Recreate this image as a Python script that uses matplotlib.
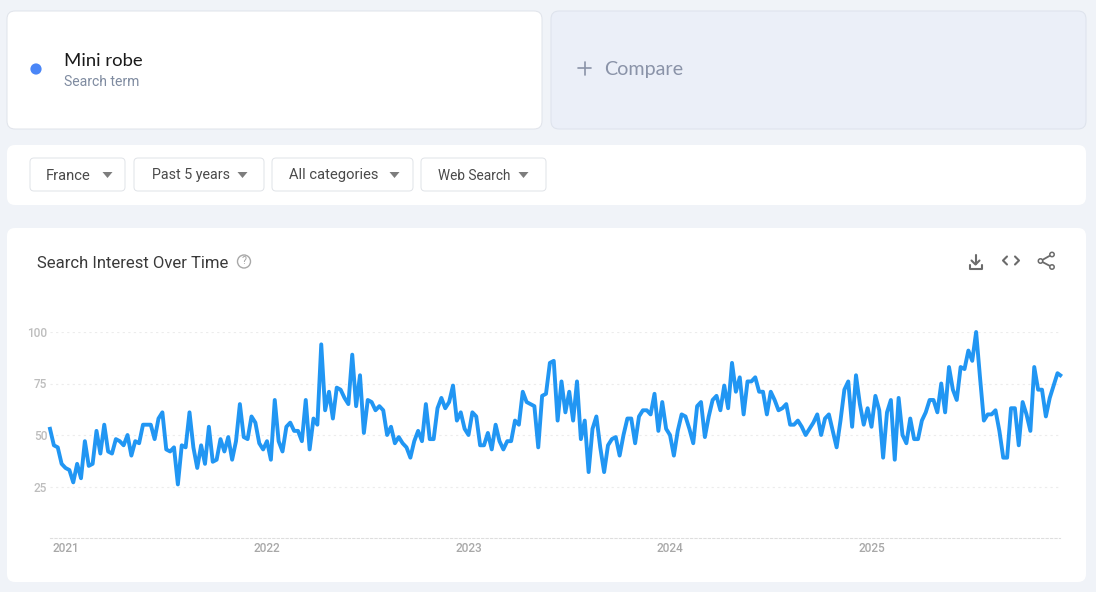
import matplotlib
matplotlib.use('Agg')
import matplotlib.pyplot as plt
import pandas as pd
from matplotlib.patches import Circle, FancyBboxPatch, Polygon

# Weekly search interest
interest = [
    53, 45, 44, 36, 34, 33, 27, 36, 29, 47, 35, 36, 52, 41, 55, 42, 41, 48, 47, 45,
    50, 40, 47, 46, 55, 55, 55, 48, 58, 61, 43, 42, 44, 26, 45, 44, 61, 44, 34, 45,
    36, 54, 37, 38, 48, 42, 49, 38, 47, 65, 49, 48, 59, 56, 46, 43, 47, 38, 67, 47,
    42, 54, 56, 52, 52, 47, 67, 43, 58, 55, 94, 62, 71, 58, 73, 72, 68, 65, 89, 64,
    79, 51, 67, 66, 62, 64, 62, 50, 54, 46, 49, 46, 44, 39, 47, 52, 47, 65, 48, 48,
    63, 68, 63, 66, 74, 57, 61, 53, 50, 61, 59, 45, 45, 51, 43, 55, 47, 43, 47, 47,
    57, 55, 71, 66, 65, 64, 44, 69, 70, 85, 86, 57, 76, 61, 71, 57, 76, 48, 57, 32,
    53, 59, 44, 32, 45, 48, 49, 40, 50, 58, 58, 46, 59, 62, 62, 60, 70, 52, 66, 53,
    50, 40, 52, 60, 59, 53, 46, 64, 66, 49, 59, 67, 69, 62, 74, 63, 85, 71, 78, 60,
    76, 76, 78, 71, 71, 60, 71, 67, 62, 63, 65, 55, 55, 57, 54, 50, 53, 56, 60, 50,
    58, 60, 52, 44, 57, 72, 76, 54, 79, 65, 55, 63, 54, 69, 62, 39, 61, 67, 38, 68,
    50, 46, 58, 48, 48, 57, 61, 67, 67, 61, 75, 61, 83, 72, 67, 83, 82, 91, 86, 100,
    78, 57, 60, 60, 62, 52, 39, 39, 63, 63, 45, 66, 60, 52, 83, 72, 72, 59, 68, 74,
    80, 79,
]
# The last value covers a partial week, so it sits closer to the one before
weeks = list(pd.date_range('2020-12-06', periods=len(interest) - 1, freq='7D'))
weeks.append(weeks[-1] + pd.Timedelta(days=5))

y_ticks = [25, 50, 75, 100]
year_labels = ['2021', '2022', '2023', '2024', '2025']
year_ticks = pd.to_datetime(['2021-01-03', '2022-01-02', '2023-01-01',
                             '2023-12-31', '2024-12-29'])

filters = ['France', 'Past 5 years', 'All categories', 'Web Search']

PAGE = '#f0f3f8'
WIDTH, HEIGHT = 1096, 592

plt.rcParams['font.family'] = ['Roboto', 'DejaVu Sans']

fig = plt.figure(figsize=(WIDTH / 100, HEIGHT / 100), dpi=100, facecolor=PAGE)

# Page furniture is laid out in screen pixels
page = fig.add_axes([0, 0, 1, 1])
page.set_xlim(0, WIDTH)
page.set_ylim(HEIGHT, 0)
page.axis('off')


def card(x0, y0, x1, y1, fill='white', edge='none', radius=8):
    """ Rounded box given by its pixel corners.
    """
    page.add_patch(FancyBboxPatch((x0 + radius, y0 + radius),
                                  x1 - x0 - 2 * radius, y1 - y0 - 2 * radius,
                                  boxstyle='round,pad={}'.format(radius),
                                  facecolor=fill, edgecolor=edge, linewidth=0.7))


def stroke(xs, ys, width=1.5, color='#6b6b6b'):
    page.plot(xs, ys, color=color, linewidth=width, solid_capstyle='round',
              solid_joinstyle='round')


card(7, 11, 542, 129, edge='#dfe3ea')
card(551, 11, 1086, 129, fill='#ebeff8', edge='#dde2ec')
card(7, 145, 1086, 205)
card(7, 228, 1086, 582)

# Search term
page.add_patch(Circle((36, 69), 5.6, facecolor='#4a86f7', edgecolor='none'))
page.text(64, 61, 'Mini robe', fontsize=13.3, family='Lato', color='#1a1a1a',
          va='center', ha='left')
page.text(64, 82.5, 'Search term', fontsize=10.1, color='#7f8ba0', va='center', ha='left')

# Compare
stroke([578, 591], [68, 68], width=1.2, color='#8a93a8')
stroke([584.5, 584.5], [61.5, 74.5], width=1.2, color='#8a93a8')
page.text(604, 69, 'Compare', fontsize=14.2, family='Lato', color='#8a93a8',
          va='center', ha='left')

# Filter buttons: box left/right, text left, arrow centre
button_left = [30, 134, 272, 421]
button_right = [125, 264, 413, 546]
text_left = [46, 152, 289, 438]
arrow_x = [107.5, 242.5, 394.5, 523.5]
text_size = [10.6, 10.3, 10.6, 9.8]
for i, name in enumerate(filters):
    card(button_left[i], 158, button_right[i], 191, edge='#e0e3e8', radius=4)
    page.text(text_left[i], 179.5, name, fontsize=text_size[i], color='#4a4a4a',
              va='baseline', ha='left')
    page.add_patch(Polygon([(arrow_x[i] - 5, 172), (arrow_x[i] + 5, 172), (arrow_x[i], 178)],
                           facecolor='#7d7d7d', edgecolor='none'))

# Chart header
page.text(37, 263.5, 'Search Interest Over Time', fontsize=12, color='#3a3a3a',
          va='center', ha='left')
page.add_patch(Circle((244, 261.5), 6.5, facecolor='none', edgecolor='#a8a8a8', linewidth=1))
page.text(244, 261.5, '?', fontsize=7.5, color='#a0a0a0', va='center', ha='center')

# Download, embed and share icons
stroke([975.5, 975.5], [255, 264])
stroke([971.5, 975.5, 979.5], [260.5, 264.5, 260.5])
stroke([969.5, 969.5, 981.5, 981.5], [265, 268.5, 268.5, 265])
stroke([1007, 1003, 1007], [256.5, 260.5, 264.5])
stroke([1015, 1019, 1015], [256.5, 260.5, 264.5])
stroke([1052, 1040.5, 1052], [254.5, 261, 267], width=1.3)
for cx, cy in [(1052, 254.5), (1040.5, 261), (1052, 267)]:
    page.add_patch(Circle((cx, cy), 2.2, facecolor='white', edgecolor='#6b6b6b', linewidth=1.1,
                          zorder=3))

# Trend chart: left/right at 50/1060 px, zero at 538 px and 100 at 332 px
ax = fig.add_axes([50 / WIDTH, 1 - 538 / HEIGHT, 1010 / WIDTH, 206 / HEIGHT])
ax.patch.set_alpha(0)
ax.plot(weeks, interest, color='#2196f3', linewidth=2.8, clip_on=False,
        solid_joinstyle='round', zorder=3)
ax.set_xlim(weeks[0], weeks[0] + pd.Timedelta(days=7) * (1010 / 3.875))
ax.set_ylim(0, 100)

for side in ['top', 'left', 'right']:
    ax.spines[side].set_visible(False)
ax.spines['bottom'].set_linestyle((0, (2, 2)))
ax.spines['bottom'].set_color('#dedede')
ax.spines['bottom'].set_linewidth(0.8)

ax.set_yticks(y_ticks)
ax.grid(axis='y', linestyle=(0, (2, 3)), color='#ececec', linewidth=0.8)
ax.tick_params(axis='y', length=0, pad=2, labelsize=8.5, labelcolor='#bdbdbd')
for label in ax.get_yticklabels():
    label.set_y(label.get_position()[1])
    label.set_fontweight('medium')

ax.set_xticks(year_ticks)
ax.set_xticklabels(year_labels, fontweight='medium')
ax.tick_params(axis='x', length=0, pad=3, labelsize=8.5, labelcolor='#a8a8a8')

fig.savefig('out.png', dpi=100, facecolor=PAGE)
